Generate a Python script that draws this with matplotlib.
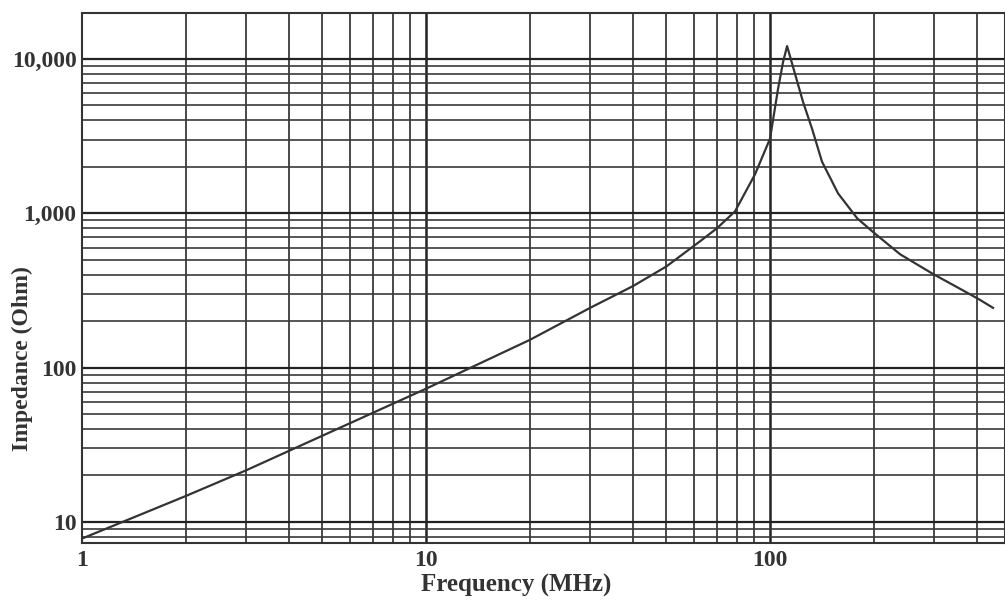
import matplotlib
matplotlib.use("Agg")
import matplotlib.pyplot as plt
from matplotlib.ticker import FixedLocator, NullFormatter, FixedFormatter

freq_mhz = [1.0, 2.0, 3.0, 10.0, 20.0, 30.0, 40.0, 50.0, 62.6, 70.1, 79.1, 90.4,
            100.0, 105.5, 109.1, 112.1, 124.7, 132.5, 141.6, 157.7, 179.2,
            198.0, 238.8, 298.0, 350.0, 403.0, 445.0]
impedance_ohm = [7.8, 14.7, 21.6, 73.0, 151.0, 244.0, 338.0, 453.0, 659.0, 800.0,
                 1030.0, 1786.0, 3048.0, 6400.0, 9550.0, 12130.0, 5280.0,
                 3530.0, 2163.0, 1346.0, 929.0, 766.0, 543.0, 404.0, 332.0, 279.0, 244.0]

x_ticks = [1, 10, 100]
x_tick_labels = ["1", "10", "100"]
y_ticks = [10, 100, 1000, 10000]
y_tick_labels = ["10", "100", "1,000", "10,000"]

serif = ["Liberation Serif", "DejaVu Serif"]

fig = plt.figure(figsize=(10.05, 6.03), dpi=100)
ax = fig.add_axes([0.0816, 0.0995, 0.9184, 0.8785])
ax.set_xscale("log")
ax.set_yscale("log")
ax.set_xlim(1, 482)
ax.set_ylim(7.3, 19800)

gc = "#3a3a3a"
xminor = [m * d for d in (1, 10, 100) for m in range(2, 10) if m * d < 482]
yminor = [m * d for d in (1, 10, 100, 1000, 10000) for m in range(2, 10) if 7.3 < m * d < 19800]
for v in xminor:
    ax.axvline(v, color=gc, lw=1.3, zorder=1)
for v in [10, 100]:
    ax.axvline(v, color="#222222", lw=1.8, zorder=1)
for v in yminor:
    ax.axhline(v, color=gc, lw=1.2, zorder=1)
for v in y_ticks:
    ax.axhline(v, color="#222222", lw=1.6, zorder=1)

ax.plot(freq_mhz, impedance_ohm, color="#333333", lw=1.6, zorder=3)

ax.xaxis.set_major_locator(FixedLocator(x_ticks))
ax.xaxis.set_major_formatter(FixedFormatter(x_tick_labels))
ax.xaxis.set_minor_locator(FixedLocator([]))
ax.xaxis.set_minor_formatter(NullFormatter())
ax.yaxis.set_major_locator(FixedLocator(y_ticks))
ax.yaxis.set_major_formatter(FixedFormatter(y_tick_labels))
ax.yaxis.set_minor_locator(FixedLocator([]))
ax.yaxis.set_minor_formatter(NullFormatter())
ax.tick_params(axis="y", length=0, pad=4)
ax.tick_params(axis="x", length=0, pad=5)
for lab in ax.get_xticklabels() + ax.get_yticklabels():
    lab.set_family(serif)
    lab.set_fontweight("bold")
    lab.set_fontsize(17)
    lab.set_color("#333333")

for s in ax.spines.values():
    s.set_color("#333333")
    s.set_linewidth(1.5)

ax.set_xlabel("Frequency (MHz)", family=serif, fontweight="bold", fontsize=18, color="#333333")
ax.set_ylabel("Impedance (Ohm)", family=serif, fontweight="bold", fontsize=17, color="#333333")
ax.xaxis.set_label_coords(0.470, -0.08)
ax.yaxis.set_label_coords(-0.065, 0.349)
ax.xaxis.label.set_verticalalignment("center")
ax.yaxis.label.set_verticalalignment("center")

fig.savefig("out.png", dpi=100)
